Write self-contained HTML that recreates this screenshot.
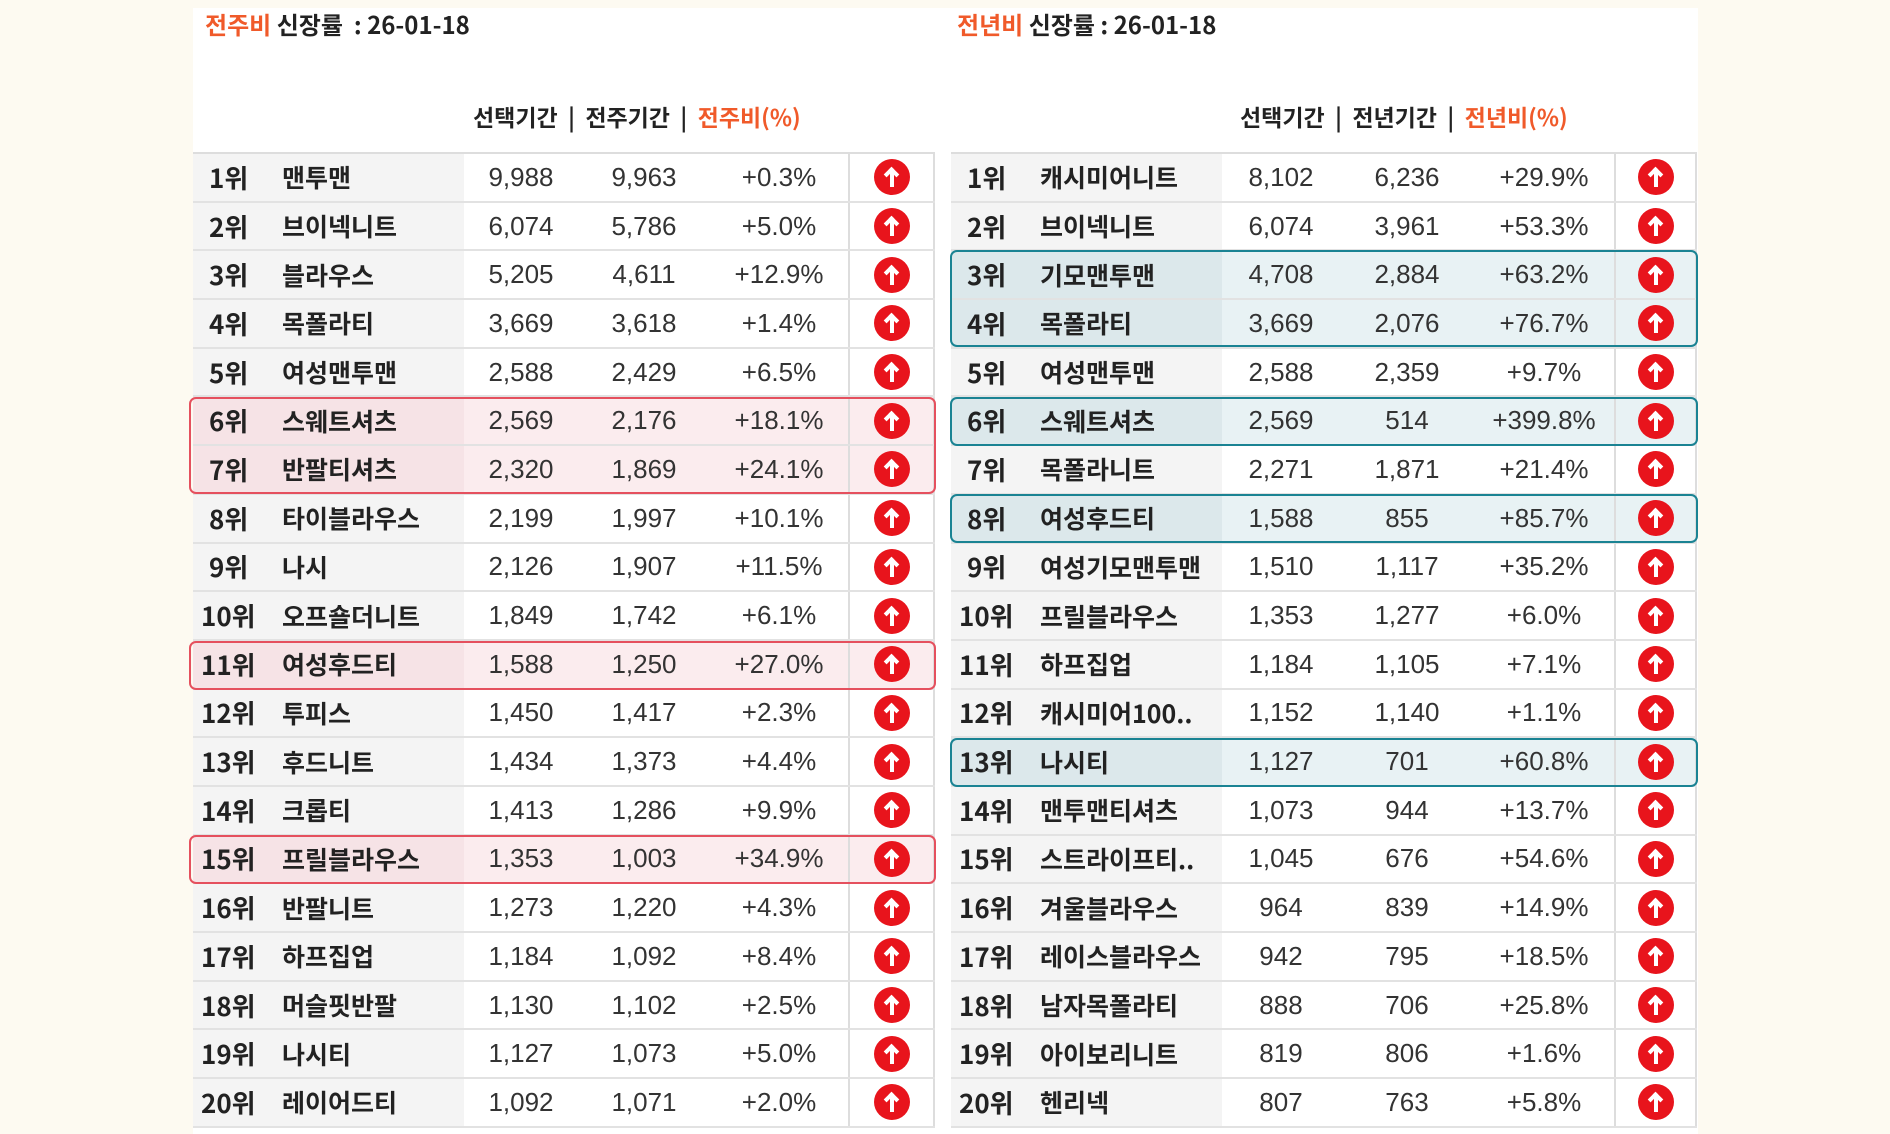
<!DOCTYPE html>
<html><head><meta charset="utf-8">
<style>
body{margin:0;width:1890px;height:1134px;background:#fdfaf1;position:relative;overflow:hidden;font-family:"Liberation Sans","Noto Sans CJK KR",sans-serif;color:#222}
.panel{position:absolute;left:193px;top:8px;width:1505px;height:1126px;background:#fff}
.title{position:absolute;top:8px;font-size:24px;font-weight:bold;font-family:"Noto Sans CJK KR",sans-serif;line-height:32px}
.hdr{position:absolute;top:100px;font-size:23px;font-weight:bold;font-family:"Noto Sans CJK KR",sans-serif;line-height:32px}
.red{color:#f05a2a}
table{position:absolute;top:152px;border-collapse:collapse;table-layout:fixed;border-top:2px solid #ddd;border-bottom:2px solid #ddd}
td{height:46.7px;padding:0;border-bottom:2px solid #e2e2e2;font-size:26px;white-space:nowrap;overflow:hidden}
td.r{padding-left:16px;font-weight:bold;background:#f4f4f4;font-family:"Noto Sans CJK KR",sans-serif}
td.n{font-weight:bold;background:#f4f4f4;font-family:"Noto Sans CJK KR",sans-serif;font-size:25px}
td.v{text-align:center;color:#333}
td.i{border-left:2px solid #ddd;text-align:center;border-right:2px solid #ddd}
tr.ph td{background:#fbecee}
tr.ph td.r,tr.ph td.n{background:#f6e3e6}
tr.th td{background:#e8f2f4}
tr.th td.r,tr.th td.n{background:#dce8eb}
.ic{display:inline-block;width:36px;height:36px;border-radius:50%;background:#e8141c;vertical-align:middle;position:relative}
.ic:before{content:"";position:absolute;left:16px;top:11px;width:4px;height:17px;background:#fff}
.ic:after{content:"";position:absolute;left:11px;top:9px;width:10px;height:10px;border-left:4px solid #fff;border-top:4px solid #fff;transform:rotate(45deg);box-sizing:content-box;width:7px;height:7px;left:12px;top:10px}
.box{position:absolute;border-radius:7px;box-sizing:border-box}
.rb{border:2px solid #e5505e}
.tb{border:2px solid #1a8393}
</style></head><body>
<div class="panel"></div>
<div class="title" style="left:205px"><span class="red">전주비</span> 신장률 &nbsp;: 26-01-18</div>
<div class="title" style="left:957px"><span class="red">전년비</span> 신장률 : 26-01-18</div>
<div class="hdr" style="left:473px">선택기간 &nbsp;| &nbsp;전주기간 &nbsp;| &nbsp;<span class="red">전주비(%)</span></div>
<div class="hdr" style="left:1240px">선택기간 &nbsp;| &nbsp;전년기간 &nbsp;| &nbsp;<span class="red">전년비(%)</span></div>

<table style="left:193px;width:741px">
<colgroup><col style="width:89px"><col style="width:182px"><col style="width:114px"><col style="width:132px"><col style="width:139px"><col style="width:85px"></colgroup>
<tr><td class="r">1위</td><td class="n">맨투맨</td><td class="v">9,988</td><td class="v">9,963</td><td class="v">+0.3%</td><td class="i"><span class="ic"></span></td></tr>
<tr><td class="r">2위</td><td class="n">브이넥니트</td><td class="v">6,074</td><td class="v">5,786</td><td class="v">+5.0%</td><td class="i"><span class="ic"></span></td></tr>
<tr><td class="r">3위</td><td class="n">블라우스</td><td class="v">5,205</td><td class="v">4,611</td><td class="v">+12.9%</td><td class="i"><span class="ic"></span></td></tr>
<tr><td class="r">4위</td><td class="n">목폴라티</td><td class="v">3,669</td><td class="v">3,618</td><td class="v">+1.4%</td><td class="i"><span class="ic"></span></td></tr>
<tr><td class="r">5위</td><td class="n">여성맨투맨</td><td class="v">2,588</td><td class="v">2,429</td><td class="v">+6.5%</td><td class="i"><span class="ic"></span></td></tr>
<tr class="ph"><td class="r">6위</td><td class="n">스웨트셔츠</td><td class="v">2,569</td><td class="v">2,176</td><td class="v">+18.1%</td><td class="i"><span class="ic"></span></td></tr>
<tr class="ph"><td class="r">7위</td><td class="n">반팔티셔츠</td><td class="v">2,320</td><td class="v">1,869</td><td class="v">+24.1%</td><td class="i"><span class="ic"></span></td></tr>
<tr><td class="r">8위</td><td class="n">타이블라우스</td><td class="v">2,199</td><td class="v">1,997</td><td class="v">+10.1%</td><td class="i"><span class="ic"></span></td></tr>
<tr><td class="r">9위</td><td class="n">나시</td><td class="v">2,126</td><td class="v">1,907</td><td class="v">+11.5%</td><td class="i"><span class="ic"></span></td></tr>
<tr><td class="r" style="padding-left:8px">10위</td><td class="n">오프숄더니트</td><td class="v">1,849</td><td class="v">1,742</td><td class="v">+6.1%</td><td class="i"><span class="ic"></span></td></tr>
<tr class="ph"><td class="r" style="padding-left:8px">11위</td><td class="n">여성후드티</td><td class="v">1,588</td><td class="v">1,250</td><td class="v">+27.0%</td><td class="i"><span class="ic"></span></td></tr>
<tr><td class="r" style="padding-left:8px">12위</td><td class="n">투피스</td><td class="v">1,450</td><td class="v">1,417</td><td class="v">+2.3%</td><td class="i"><span class="ic"></span></td></tr>
<tr><td class="r" style="padding-left:8px">13위</td><td class="n">후드니트</td><td class="v">1,434</td><td class="v">1,373</td><td class="v">+4.4%</td><td class="i"><span class="ic"></span></td></tr>
<tr><td class="r" style="padding-left:8px">14위</td><td class="n">크롭티</td><td class="v">1,413</td><td class="v">1,286</td><td class="v">+9.9%</td><td class="i"><span class="ic"></span></td></tr>
<tr class="ph"><td class="r" style="padding-left:8px">15위</td><td class="n">프릴블라우스</td><td class="v">1,353</td><td class="v">1,003</td><td class="v">+34.9%</td><td class="i"><span class="ic"></span></td></tr>
<tr><td class="r" style="padding-left:8px">16위</td><td class="n">반팔니트</td><td class="v">1,273</td><td class="v">1,220</td><td class="v">+4.3%</td><td class="i"><span class="ic"></span></td></tr>
<tr><td class="r" style="padding-left:8px">17위</td><td class="n">하프집업</td><td class="v">1,184</td><td class="v">1,092</td><td class="v">+8.4%</td><td class="i"><span class="ic"></span></td></tr>
<tr><td class="r" style="padding-left:8px">18위</td><td class="n">머슬핏반팔</td><td class="v">1,130</td><td class="v">1,102</td><td class="v">+2.5%</td><td class="i"><span class="ic"></span></td></tr>
<tr><td class="r" style="padding-left:8px">19위</td><td class="n">나시티</td><td class="v">1,127</td><td class="v">1,073</td><td class="v">+5.0%</td><td class="i"><span class="ic"></span></td></tr>
<tr><td class="r" style="padding-left:8px">20위</td><td class="n">레이어드티</td><td class="v">1,092</td><td class="v">1,071</td><td class="v">+2.0%</td><td class="i"><span class="ic"></span></td></tr>
</table>

<table style="left:951px;width:745px">
<colgroup><col style="width:89px"><col style="width:182px"><col style="width:118px"><col style="width:134px"><col style="width:141px"><col style="width:81px"></colgroup>
<tr><td class="r">1위</td><td class="n">캐시미어니트</td><td class="v">8,102</td><td class="v">6,236</td><td class="v">+29.9%</td><td class="i"><span class="ic"></span></td></tr>
<tr><td class="r">2위</td><td class="n">브이넥니트</td><td class="v">6,074</td><td class="v">3,961</td><td class="v">+53.3%</td><td class="i"><span class="ic"></span></td></tr>
<tr class="th"><td class="r">3위</td><td class="n">기모맨투맨</td><td class="v">4,708</td><td class="v">2,884</td><td class="v">+63.2%</td><td class="i"><span class="ic"></span></td></tr>
<tr class="th"><td class="r">4위</td><td class="n">목폴라티</td><td class="v">3,669</td><td class="v">2,076</td><td class="v">+76.7%</td><td class="i"><span class="ic"></span></td></tr>
<tr><td class="r">5위</td><td class="n">여성맨투맨</td><td class="v">2,588</td><td class="v">2,359</td><td class="v">+9.7%</td><td class="i"><span class="ic"></span></td></tr>
<tr class="th"><td class="r">6위</td><td class="n">스웨트셔츠</td><td class="v">2,569</td><td class="v">514</td><td class="v">+399.8%</td><td class="i"><span class="ic"></span></td></tr>
<tr><td class="r">7위</td><td class="n">목폴라니트</td><td class="v">2,271</td><td class="v">1,871</td><td class="v">+21.4%</td><td class="i"><span class="ic"></span></td></tr>
<tr class="th"><td class="r">8위</td><td class="n">여성후드티</td><td class="v">1,588</td><td class="v">855</td><td class="v">+85.7%</td><td class="i"><span class="ic"></span></td></tr>
<tr><td class="r">9위</td><td class="n">여성기모맨투맨</td><td class="v">1,510</td><td class="v">1,117</td><td class="v">+35.2%</td><td class="i"><span class="ic"></span></td></tr>
<tr><td class="r" style="padding-left:8px">10위</td><td class="n">프릴블라우스</td><td class="v">1,353</td><td class="v">1,277</td><td class="v">+6.0%</td><td class="i"><span class="ic"></span></td></tr>
<tr><td class="r" style="padding-left:8px">11위</td><td class="n">하프집업</td><td class="v">1,184</td><td class="v">1,105</td><td class="v">+7.1%</td><td class="i"><span class="ic"></span></td></tr>
<tr><td class="r" style="padding-left:8px">12위</td><td class="n">캐시미어100..</td><td class="v">1,152</td><td class="v">1,140</td><td class="v">+1.1%</td><td class="i"><span class="ic"></span></td></tr>
<tr class="th"><td class="r" style="padding-left:8px">13위</td><td class="n">나시티</td><td class="v">1,127</td><td class="v">701</td><td class="v">+60.8%</td><td class="i"><span class="ic"></span></td></tr>
<tr><td class="r" style="padding-left:8px">14위</td><td class="n">맨투맨티셔츠</td><td class="v">1,073</td><td class="v">944</td><td class="v">+13.7%</td><td class="i"><span class="ic"></span></td></tr>
<tr><td class="r" style="padding-left:8px">15위</td><td class="n">스트라이프티..</td><td class="v">1,045</td><td class="v">676</td><td class="v">+54.6%</td><td class="i"><span class="ic"></span></td></tr>
<tr><td class="r" style="padding-left:8px">16위</td><td class="n">겨울블라우스</td><td class="v">964</td><td class="v">839</td><td class="v">+14.9%</td><td class="i"><span class="ic"></span></td></tr>
<tr><td class="r" style="padding-left:8px">17위</td><td class="n">레이스블라우스</td><td class="v">942</td><td class="v">795</td><td class="v">+18.5%</td><td class="i"><span class="ic"></span></td></tr>
<tr><td class="r" style="padding-left:8px">18위</td><td class="n">남자목폴라티</td><td class="v">888</td><td class="v">706</td><td class="v">+25.8%</td><td class="i"><span class="ic"></span></td></tr>
<tr><td class="r" style="padding-left:8px">19위</td><td class="n">아이보리니트</td><td class="v">819</td><td class="v">806</td><td class="v">+1.6%</td><td class="i"><span class="ic"></span></td></tr>
<tr><td class="r" style="padding-left:8px">20위</td><td class="n">헨리넥</td><td class="v">807</td><td class="v">763</td><td class="v">+5.8%</td><td class="i"><span class="ic"></span></td></tr>
</table>

<div class="box rb" style="left:189px;top:397px;width:747px;height:97px"></div>
<div class="box rb" style="left:189px;top:641px;width:747px;height:49px"></div>
<div class="box rb" style="left:189px;top:835px;width:747px;height:49px"></div>
<div class="box tb" style="left:950px;top:250px;width:748px;height:97px"></div>
<div class="box tb" style="left:950px;top:397px;width:748px;height:49px"></div>
<div class="box tb" style="left:950px;top:494px;width:748px;height:49px"></div>
<div class="box tb" style="left:950px;top:738px;width:748px;height:49px"></div>
</body></html>
